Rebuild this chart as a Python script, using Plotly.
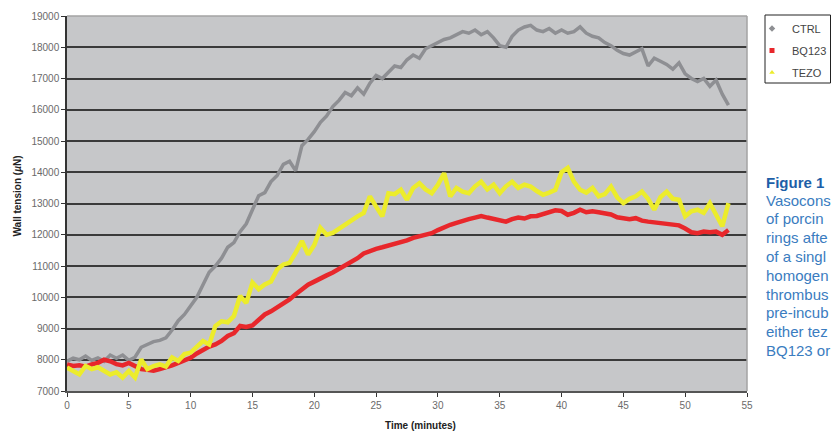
import plotly.graph_objects as go

# ---- data ----
time_min = [i * 0.5 for i in range(108)]  # 0 .. 53.5 minutes

ctrl = [7950, 8050, 8000, 8120, 7980, 8060, 7950, 8150, 8050, 8150,
        7980, 8080, 8400, 8500, 8580, 8620, 8700, 8950, 9250, 9450,
        9750, 10000, 10400, 10800, 11000, 11250, 11600, 11750, 12100, 12350,
        12800, 13250, 13350, 13700, 13900, 14250, 14350, 14050, 14850, 15050,
        15300, 15600, 15800, 16100, 16300, 16550, 16450, 16700, 16500, 16850,
        17100, 17000, 17200, 17400, 17350, 17600, 17750, 17650, 17950, 18050,
        18150, 18250, 18300, 18400, 18500, 18450, 18550, 18400, 18500, 18300,
        18050, 18000, 18350, 18550, 18650, 18700, 18550, 18500, 18600, 18450,
        18550, 18450, 18500, 18650, 18450, 18350, 18300, 18150, 18050, 17900,
        17800, 17750, 17850, 17950, 17400, 17650, 17550, 17450, 17300, 17500,
        17150, 17000, 16900, 17000, 16750, 16950, 16500, 16150]

bq123 = [7850, 7800, 7820, 7780, 7850, 7900, 8000, 7950, 7860, 7820,
         7900, 7780, 7700, 7680, 7650, 7700, 7750, 7820, 7900, 7980,
         8060, 8200, 8330, 8420, 8490, 8600, 8760, 8850, 9080, 9050,
         9100, 9300, 9450, 9550, 9670, 9800, 9930, 10100, 10250, 10400,
         10500, 10620, 10700, 10790, 10900, 11000, 11150, 11250, 11400, 11480,
         11550, 11600, 11650, 11700, 11750, 11820, 11900, 11950, 12000, 12050,
         12150, 12250, 12320, 12380, 12450, 12500, 12550, 12600, 12550, 12500,
         12450, 12420, 12500, 12550, 12520, 12590, 12600, 12650, 12700, 12780,
         12760, 12640, 12700, 12800, 12720, 12750, 12720, 12700, 12650, 12560,
         12520, 12500, 12530, 12450, 12420, 12400, 12380, 12370, 12330, 12300,
         12200, 12080, 12050, 12100, 12080, 12100, 12000, 12150]

tezo = [7750, 7650, 7530, 7800, 7700, 7760, 7640, 7530, 7600, 7430,
        7640, 7430, 8010, 7700, 7800, 7850, 7780, 8070, 7960, 8180,
        8230, 8440, 8600, 8490, 9080, 9230, 9200, 9400, 10040, 9820,
        10470, 10260, 10410, 10500, 10890, 11050, 11100, 11430, 11800, 11370,
        11670, 12220, 12000, 12060, 12200, 12300, 12450, 12590, 12700, 13230,
        12900, 12590, 13330, 13300, 13440, 13120, 13500, 13650, 13450, 13330,
        13600, 13970, 13230, 13500, 13380, 13330, 13550, 13700, 13450, 13600,
        13330, 13550, 13700, 13500, 13600, 13540, 13400, 13280, 13350, 13440,
        14000, 14140, 13700, 13440, 13350, 13500, 13230, 13300, 13540, 13200,
        13010, 13150, 13230, 13380, 13150, 12800, 13200, 13380, 13150, 13120,
        12590, 12750, 12800, 12700, 13010, 12650, 12270, 13010]

series_names = ["CTRL", "BQ123", "TEZO"]
series_values = [ctrl, bq123, tezo]
series_colors = ["#8e8f93", "#e8272b", "#ecec2c"]
series_widths = [3.5, 4.5, 4.5]
legend_symbols = ["diamond", "square", "triangle-up"]

x_ticks = list(range(0, 56, 5))
y_ticks = list(range(7000, 19001, 1000))

# caption as visible in the reference (cut at the right page edge)
caption_title = "Figure 1"
caption_lines = ["Vasocons", "of porcin", "rings afte", "of a singl", "homogen",
                 "thrombus", "pre-incub", "either tez", "BQ123 or"]

fig = go.Figure()

for name, vals, col, w in zip(series_names, series_values, series_colors, series_widths):
    fig.add_trace(go.Scatter(x=time_min, y=vals, mode="lines", name=name,
                             line=dict(color=col, width=w), showlegend=False))

for name, col, sym in zip(series_names, series_colors, legend_symbols):
    fig.add_trace(go.Scatter(x=[None], y=[None], mode="markers", name=name,
                             legendgroup=name,
                             marker=dict(color=col, symbol=sym, size=5)))

L, R, T, B = 67, 84, 16, 41
W, H = 831, 432
pw, ph = W - L - R, H - T - B

def px(xp):
    return (xp - L) / pw

def py(yp):
    return (H - B - yp) / ph

fig.update_layout(
    width=W, height=H,
    margin=dict(l=L, r=R, t=T, b=B, autoexpand=False),
    paper_bgcolor="white",
    plot_bgcolor="#c6c7c9",
    font=dict(family="Liberation Sans, Arial, sans-serif", size=10, color="#666666"),
    xaxis=dict(range=[0, 55], tickvals=x_ticks, showgrid=False, zeroline=False,
               showline=True, linecolor="#555555", linewidth=1.5,
               ticks="outside", ticklen=4, tickcolor="#333333", tickwidth=1,
               tickfont=dict(size=10, color="#6a6a6a")),
    yaxis=dict(range=[7000, 19000], tickvals=y_ticks, tickformat="d", showgrid=True,
               gridcolor="#3a3a3a", gridwidth=1.5, zeroline=False,
               showline=True, linecolor="#333333", linewidth=1.5,
               ticks="outside", ticklen=4, tickcolor="#333333", tickwidth=1,
               tickfont=dict(size=10, color="#6a6a6a")),
    legend=dict(x=px(752), y=py(14), xanchor="left", yanchor="top",
                bgcolor="rgba(0,0,0,0)", borderwidth=0,
                font=dict(size=11, color="#444444"), itemwidth=30,
                tracegroupgap=3),
    showlegend=True,
)

# legend frame
fig.add_shape(type="rect", xref="paper", yref="paper",
              x0=px(765), x1=px(830.5), y0=py(83), y1=py(15),
              line=dict(color="#222222", width=1), fillcolor="rgba(0,0,0,0)", layer="below")

# light frame on top and right of plot area
fig.add_shape(type="line", xref="paper", yref="paper", x0=0, x1=1, y0=1, y1=1,
              line=dict(color="#a3a3a3", width=1.5))
fig.add_shape(type="line", xref="paper", yref="paper", x0=1, x1=1, y0=0, y1=1,
              line=dict(color="#a3a3a3", width=1.5))

# axis titles
fig.add_annotation(text="<b>Time (minutes)</b>", xref="paper", yref="paper",
                   x=px(420), y=py(433), showarrow=False,
                   font=dict(size=10, color="#222222"))
fig.add_annotation(text="<b>Wall tension (<i>µ</i>N)</b>", xref="paper", yref="paper",
                   x=px(9), y=py(196), showarrow=False, textangle=-90,
                   font=dict(size=10, color="#222222"))

# caption
fig.add_annotation(text="<b>" + caption_title + "</b>", xref="paper", yref="paper",
                   x=px(764), y=py(182), xanchor="left", yanchor="middle",
                   showarrow=False, font=dict(size=15, color="#1d5fa8"))
for i, line in enumerate(caption_lines):
    fig.add_annotation(text=line, xref="paper", yref="paper",
                       x=px(764), y=py(200 + i * 18.8), xanchor="left", yanchor="middle",
                       showarrow=False, font=dict(size=15, color="#3a7cc0"))

fig.write_html("out.html", config={"displayModeBar": False},
               post_script="document.body.style.margin='0';document.body.style.overflow='hidden';")
